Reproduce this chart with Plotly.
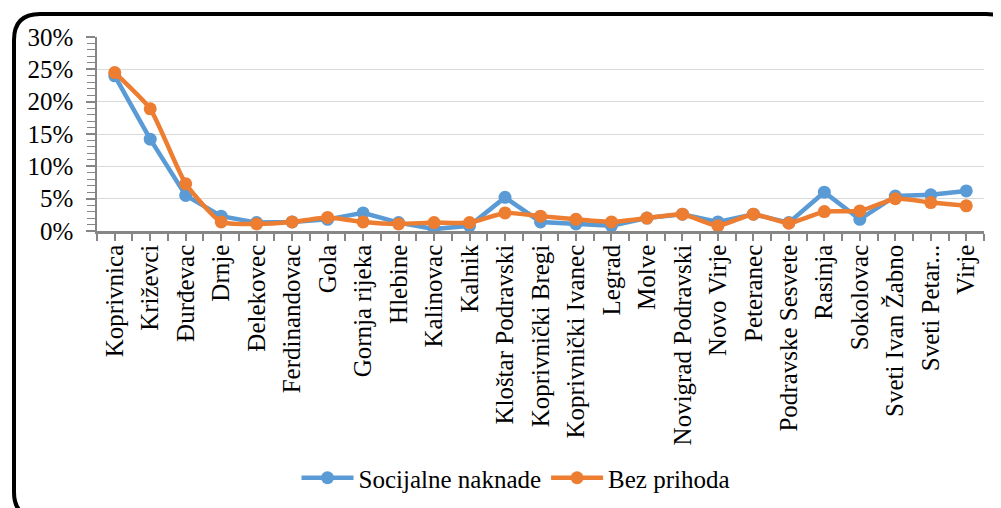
import plotly.graph_objects as go

categories = ["Koprivnica", "Križevci", "Đurđevac", "Drnje", "Đelekovec", "Ferdinandovac",
              "Gola", "Gornja rijeka", "Hlebine", "Kalinovac", "Kalnik", "Kloštar Podravski",
              "Koprivnički Bregi", "Koprivnički Ivanec", "Legrad", "Molve", "Novigrad Podravski",
              "Novo Virje", "Peteranec", "Podravske Sesvete", "Rasinja", "Sokolovac",
              "Sveti Ivan Žabno", "Sveti Petar...", "Virje"]

socijalne_naknade = [0.240, 0.142, 0.055, 0.023, 0.013, 0.014, 0.018, 0.028, 0.013, 0.003,
                     0.008, 0.052, 0.014, 0.011, 0.008, 0.020, 0.026, 0.014, 0.026, 0.013,
                     0.060, 0.018, 0.054, 0.056, 0.062]
bez_prihoda = [0.245, 0.189, 0.073, 0.014, 0.011, 0.014, 0.021, 0.014, 0.011, 0.013,
               0.013, 0.028, 0.023, 0.018, 0.014, 0.020, 0.026, 0.008, 0.026, 0.012,
               0.030, 0.031, 0.050, 0.044, 0.039]

BLUE = "#5B9BD5"
ORANGE = "#ED7D31"
FONT = "Liberation Serif"

xs = list(range(len(categories)))

fig = go.Figure()
fig.add_trace(go.Scatter(x=xs, y=socijalne_naknade, name="Socijalne naknade", mode="lines+markers",
                         line=dict(color=BLUE, width=4.5), marker=dict(size=13, color=BLUE)))
fig.add_trace(go.Scatter(x=xs, y=bez_prihoda, name="Bez prihoda", mode="lines+markers",
                         line=dict(color=ORANGE, width=4.5, shape="spline", smoothing=0.5),
                         marker=dict(size=13, color=ORANGE)))

# page body has an 8px margin: work in screen pixels, subtract offset
OFF = 8
W, H = 1001 - OFF, 508 - OFF
SX0, SX1, SY0, SY1 = 97, 984, 37, 231          # plot area in screen px
L, R, T, B = SX0 - OFF, W - (SX1 - OFF), SY0 - OFF, H - (SY1 - OFF)
pw, ph = W - L - R, H - T - B


def px(x):
    return (x - SX0) / pw


def py(y):
    return (SY1 - y) / ph


# rounded outer frame (screen px); bottom and right run past the visible area
x0, x1, y0, y1, r = 14, 1012, 14, 518, 26
path = (f"M {px(x0 + r)} {py(y0)} L {px(x1 - r)} {py(y0)} "
        f"Q {px(x1)} {py(y0)} {px(x1)} {py(y0 + r)} "
        f"L {px(x1)} {py(y1 - r)} Q {px(x1)} {py(y1)} {px(x1 - r)} {py(y1)} "
        f"L {px(x0 + r)} {py(y1)} Q {px(x0)} {py(y1)} {px(x0)} {py(y1 - r)} "
        f"L {px(x0)} {py(y0 + r)} Q {px(x0)} {py(y0)} {px(x0 + r)} {py(y0)} Z")

fig.update_layout(
    width=W, height=H,
    margin=dict(l=L, r=R, t=T, b=B, autoexpand=False),
    paper_bgcolor="white", plot_bgcolor="white",
    font=dict(family=FONT, size=24, color="black"),
    showlegend=True,
    legend=dict(orientation="h", x=px(516), y=py(478), xanchor="center", yanchor="middle",
                font=dict(family=FONT, size=25), itemwidth=52, traceorder="normal",
                bgcolor="rgba(0,0,0,0)"),
    shapes=[dict(type="path", xref="paper", yref="paper", path=path,
                 line=dict(color="black", width=4), layer="below")],
    xaxis=dict(
        type="linear", range=[-0.5, len(categories) - 0.5],
        tickmode="array", tickvals=xs, ticktext=categories, tickangle=-90,
        ticks="outside", ticklen=7, tickcolor="#868686", tickwidth=1.5,
        minor=dict(tickmode="linear", tick0=-0.5, dtick=1, ticks="outside", ticklen=7,
                   tickcolor="#868686", tickwidth=1.5, showgrid=False),
        ticklabelstandoff=-6,
        showline=True, linecolor="#868686", linewidth=2.5, showgrid=False, zeroline=False,
        tickfont=dict(family=FONT, size=25), automargin=False, fixedrange=True,
    ),
    yaxis=dict(
        range=[0, 0.30], dtick=0.05, tickformat=".0%",
        ticks="outside", ticklen=9, tickcolor="#868686", tickwidth=1.5,
        minor=dict(dtick=0.01, ticks="outside", ticklen=8, tickcolor="#868686", tickwidth=1.2,
                   showgrid=False),
        ticklabelstandoff=8,
        showline=True, linecolor="#868686", linewidth=1.5,
        showgrid=True, gridcolor="#d9d9d9", gridwidth=1.2, zeroline=False,
        tickfont=dict(family=FONT, size=25), automargin=False, fixedrange=True,
    ),
)

fig.write_html("out.html")
